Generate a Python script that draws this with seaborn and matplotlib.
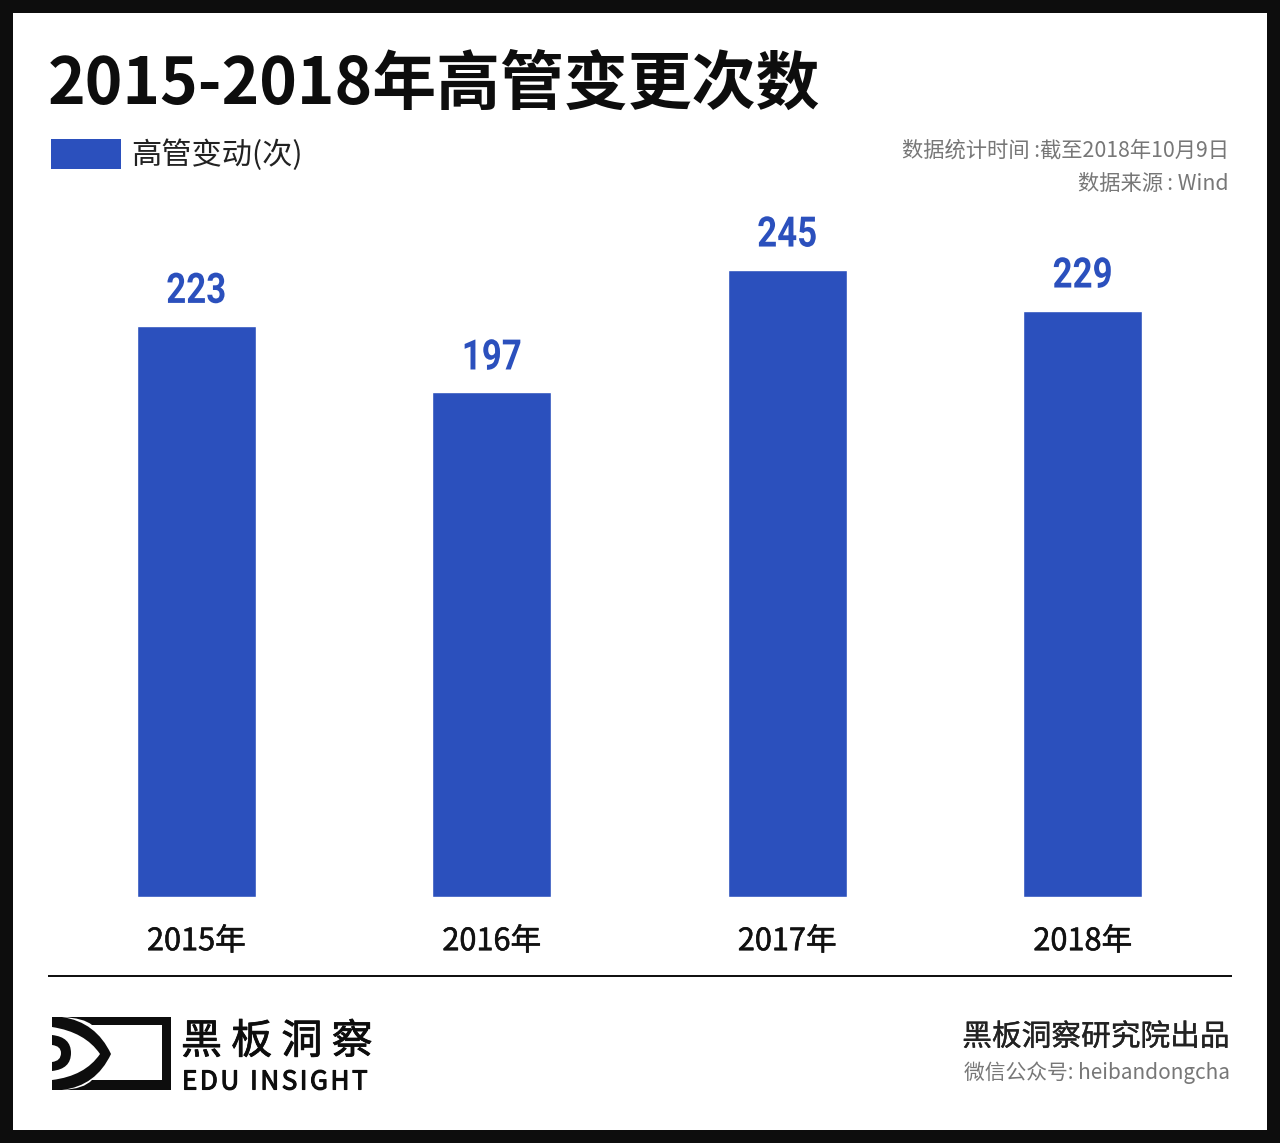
import numpy as np
import matplotlib
matplotlib.use("Agg")
import matplotlib.pyplot as plt
import matplotlib.patheffects as pe
from matplotlib.patches import Rectangle, PathPatch
from matplotlib.path import Path
from matplotlib.transforms import Affine2D
import pandas as pd
import seaborn as sns

years = ["2015年", "2016年", "2017年", "2018年"]
changes = [223, 197, 245, 229]

W, H = 1280, 1143
BLUE = "#2b50bd"
DARK = "#0d0d0d"
GREY = "#777777"

sns.set_theme(style="white")
plt.rcParams["font.family"] = ["Noto Sans CJK SC", "DejaVu Sans"]

fig = plt.figure(figsize=(W / 100, H / 100), dpi=100, facecolor=DARK)


class SqueezeX(pe.AbstractPathEffect):
    """Narrow a text around a pixel column, no condensed font is installed."""

    def __init__(self, cx, factor):
        super().__init__()
        self.cx, self.factor = cx, factor

    def draw_path(self, renderer, gc, tpath, affine, rgbFace=None):
        squeeze = Affine2D().translate(-self.cx, 0).scale(self.factor, 1).translate(self.cx, 0)
        renderer.draw_path(gc, tpath, affine + squeeze, rgbFace)


def heavier(width=0.5, color=DARK):
    # the CJK family only has regular and bold, this gives a medium look
    return [pe.withStroke(linewidth=width, foreground=color)]


def fx(x):
    return x / W


def fy(y):
    return 1 - y / H


def put(x, y, s, size, **kw):
    # x, y given in picture pixels, size in pixels
    kw.setdefault("va", "center")
    return fig.text(fx(x), fy(y), s, fontsize=size * 0.72, **kw)


def px_rect(x0, y0, x1, y1, color, z=1):
    fig.add_artist(Rectangle((fx(x0), fy(y1)), (x1 - x0) / W, (y1 - y0) / H,
                             transform=fig.transFigure, facecolor=color,
                             edgecolor="none", zorder=z))


def px_shape(points, color, z):
    # points: start + quadratic curve segments (ctrl, end)
    verts = [(fx(points[0][0]), fy(points[0][1]))]
    codes = [Path.MOVETO]
    for c, e in points[1:]:
        verts += [(fx(c[0]), fy(c[1])), (fx(e[0]), fy(e[1]))]
        codes += [Path.CURVE3, Path.CURVE3]
    verts.append(verts[0])
    codes.append(Path.CLOSEPOLY)
    fig.add_artist(PathPatch(Path(verts, codes), transform=fig.transFigure,
                             facecolor=color, edgecolor="none", zorder=z))


# white card inside the black frame
px_rect(13, 13, 1267, 1130, "white", z=0)

# bars
ax = fig.add_axes([fx(48.6), fy(897), (1230.4 - 48.6) / W, (897 - 200) / H])
ax.patch.set_alpha(0)
df = pd.DataFrame({"year": years, "changes": changes})
sns.barplot(data=df, x="year", y="changes", color=BLUE, saturation=1,
            width=0.403, ax=ax)
ax.set_xlim(-0.5, 3.5)
ax.set_ylim(0, 697 / 2.561)
ax.set_xlabel("")
ax.set_ylabel("")
ax.set_yticks([])
sns.despine(ax=ax, left=True, bottom=True)
ax.tick_params(axis="x", length=0, pad=21, labelsize=30.7 * 0.72, labelcolor="#111111")
for lab in ax.get_xticklabels():
    lab.set_path_effects(heavier(0.4, "#111111"))
for i, v in enumerate(changes):
    cx = ax.transData.transform((i, 0))[0]
    ax.annotate(str(v), (i, v), xytext=(0, 14), textcoords="offset pixels",
                ha="center", va="bottom", color=BLUE, fontsize=42 * 0.72,
                family="Roboto", fontweight="bold",
                path_effects=[SqueezeX(cx, 0.83)])

# header
put(48, 85, "2015-2018年高管变更次数", 63.9, color=DARK, fontweight="bold")
px_rect(51, 139, 121, 169, BLUE)
put(131, 155, "高管变动(次)", 30.3, color="#222222")
put(1229, 151, "数据统计时间 :截至2018年10月9日", 21.3, color=GREY, ha="right")
put(1229, 184, "数据来源\u2009: Wind", 21.3, color=GREY, ha="right")

# footer
px_rect(48, 975, 1232, 977, "#111111")
px_rect(52, 1017, 171, 1090, DARK)
px_rect(62, 1025, 162, 1080, "white", z=2)
px_shape([(62, 1017), ((84, 1018), (92, 1025)), ((92, 1050), (92, 1080)),
          ((84, 1089), (62, 1090))], "white", 3)
px_shape([(62, 1017), ((96, 1022), (111, 1054)), ((96, 1086), (62, 1090))], DARK, 4)
px_shape([(52, 1027), ((85, 1032), (100, 1054)), ((85, 1076), (52, 1080))], "white", 5)
px_shape([(52, 1035), ((71, 1037), (71, 1053)), ((71, 1069), (52, 1071))], DARK, 6)
px_shape([(52, 1045), ((61, 1046), (61, 1053)), ((61, 1061), (52, 1062))], "white", 7)

put(181, 1042, "黑 板 洞 察", 41, color=DARK, path_effects=heavier(0.6))
put(182, 1082, "E\u200aD\u200aU\u200a \u200aI\u200aN\u200aS\u200aI\u200aG\u200aH\u200aT", 26,
    color=DARK, path_effects=heavier(0.8))
put(1230, 1037, "黑板洞察研究院出品", 29.7, color="#222222", ha="right",
    path_effects=heavier(0.25, "#222222"))
put(1230, 1073, "微信公众号: heibandongcha", 20.8, color=GREY, ha="right")

fig.savefig("out.png", dpi=100, facecolor=DARK)
plt.close(fig)
